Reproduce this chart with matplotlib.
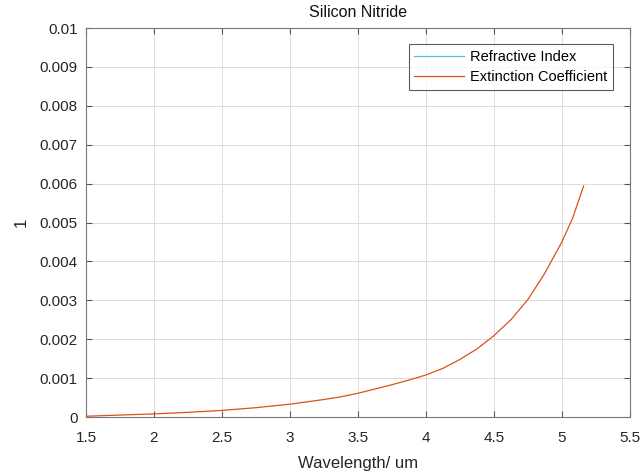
import matplotlib
matplotlib.use("Agg")
import matplotlib.pyplot as plt

plt.rcParams["font.family"] = ["Liberation Sans", "DejaVu Sans"]

# wavelength in um
wavelength = [1.5, 1.75, 2.0, 2.25, 2.5, 2.75, 3.0, 3.25, 3.375, 3.5, 3.625,
              3.75, 3.875, 4.0, 4.125, 4.25, 4.375, 4.5, 4.625, 4.75, 4.875,
              5.0, 5.08, 5.16]
# extinction coefficient k
extinction = [0.00002, 0.00005, 0.00008, 0.00012, 0.00017, 0.00024, 0.00033,
              0.00045, 0.00052, 0.00061, 0.00072, 0.00083, 0.00095, 0.00108,
              0.00125, 0.00148, 0.00175, 0.00209, 0.00250, 0.00302, 0.00370,
              0.00450, 0.00512, 0.00594]
# refractive index n (far above the y range shown)
refractive = [1.996, 1.993, 1.990, 1.987, 1.983, 1.979, 1.974, 1.969, 1.966,
              1.963, 1.960, 1.957, 1.954, 1.950, 1.948, 1.946, 1.943, 1.941,
              1.938, 1.935, 1.932, 1.929, 1.927, 1.925]

xticks = [1.5, 2, 2.5, 3, 3.5, 4, 4.5, 5, 5.5]
yticks = [0, 0.001, 0.002, 0.003, 0.004, 0.005, 0.006, 0.007, 0.008, 0.009, 0.01]
ytick_labels = ["0", "0.001", "0.002", "0.003", "0.004", "0.005", "0.006",
                "0.007", "0.008", "0.009", "0.01"]

fig = plt.figure(figsize=(6.44, 4.72), dpi=100)
ax = fig.add_axes([0.1335, 0.1165, 0.8445, 0.824])

ax.plot(wavelength, refractive, color="#4DBEEE", lw=0.9, label="Refractive Index")
ax.plot(wavelength, extinction, color="#D95319", lw=0.9, label="Extinction Coefficient")

ax.set_xlim(1.5, 5.5)
ax.set_ylim(0, 0.01)
ax.set_xticks(xticks)
ax.set_xticklabels([f"{t:g}" for t in xticks])
ax.set_yticks(yticks)
ax.set_yticklabels(ytick_labels)

ax.grid(True, color="#dcdcdc", lw=0.7)
ax.set_axisbelow(True)
for s in ax.spines.values():
    s.set_color("#777777")
    s.set_linewidth(0.8)
ax.tick_params(direction="in", top=True, right=True, length=4, width=0.8,
               color="#555555", labelsize=11, labelcolor="#262626")
ax.tick_params(axis="x", pad=10)
ax.tick_params(axis="y", pad=6)

ax.set_title("Silicon Nitride", fontsize=11.5, color="#111111", pad=8)
ax.set_xlabel("Wavelength/ um", fontsize=12, color="#262626", labelpad=8)
ax.set_ylabel("1", fontsize=12, color="#262626", labelpad=8)

leg = ax.legend(loc="upper right", bbox_to_anchor=(0.969, 0.959), fontsize=10.5,
                frameon=True, fancybox=False, handlelength=3.4, borderpad=0.4,
                labelspacing=0.45, handletextpad=0.4, borderaxespad=0)
leg.get_frame().set_edgecolor("#333333")
leg.get_frame().set_linewidth(0.8)

fig.savefig("out.png", dpi=100, facecolor="white")
